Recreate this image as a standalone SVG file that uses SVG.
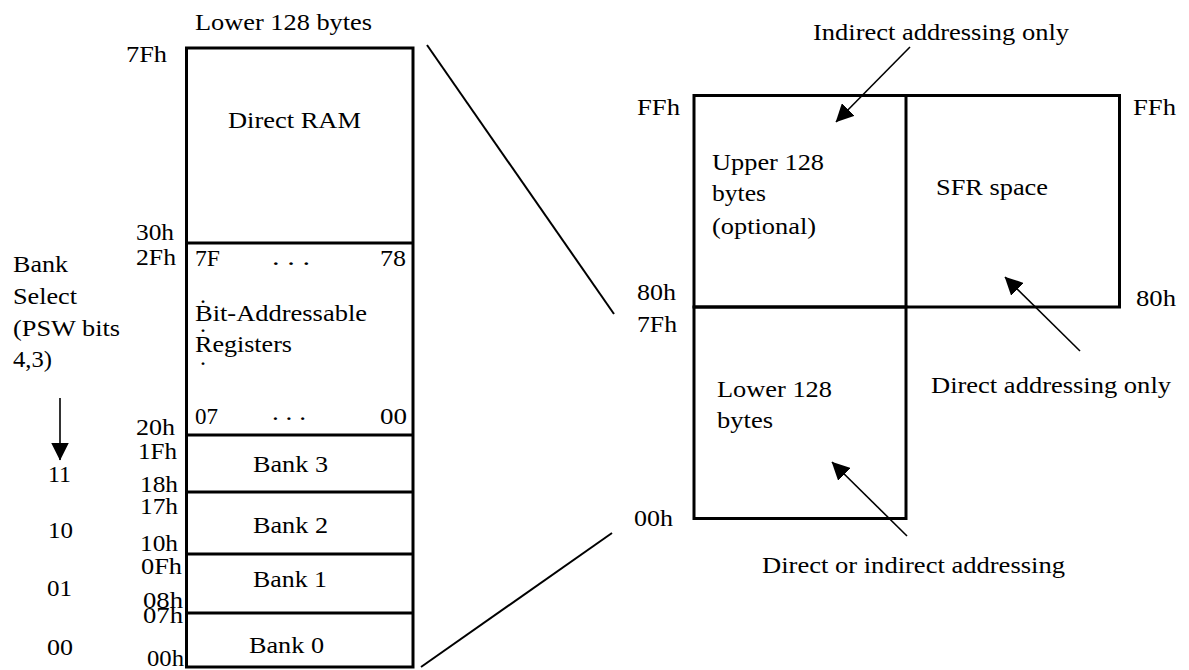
<svg xmlns="http://www.w3.org/2000/svg" width="1189" height="670" viewBox="0 0 1189 670">
<style>
text { font-family: "Liberation Serif", "Times New Roman", serif; font-size: 24px; fill: #000; }
.box { fill: none; stroke: #000; stroke-width: 3; }
.div { stroke: #000; stroke-width: 3; }
.conn { stroke: #000; stroke-width: 2; fill: none; }
.arr { stroke: #000; stroke-width: 1.6; fill: none; marker-end: url(#ah); }
</style>
<defs>
<marker id="ah" viewBox="0 0 18 18" refX="17.5" refY="9" markerWidth="18" markerHeight="18" markerUnits="userSpaceOnUse" orient="auto">
<path d="M0,0 L18,9 L0,18 z" fill="#000"/>
</marker>
</defs>
<rect width="1189" height="670" fill="#fff"/>

<g id="lower-ram">
<text x="195" y="30" textLength="177" lengthAdjust="spacingAndGlyphs">Lower 128 bytes</text>
<rect class="box" x="186.5" y="48" width="226.5" height="619"/>
<line class="div" x1="186.5" y1="243" x2="413" y2="243"/>
<line class="div" x1="186.5" y1="435" x2="413" y2="435"/>
<line class="div" x1="186.5" y1="492" x2="413" y2="492"/>
<line class="div" x1="186.5" y1="554" x2="413" y2="554"/>
<line class="div" x1="186.5" y1="613" x2="413" y2="613"/>
</g>

<g id="direct-ram">
<text x="228" y="128" textLength="133" lengthAdjust="spacingAndGlyphs">Direct RAM</text>
<text x="126" y="62" textLength="41" lengthAdjust="spacingAndGlyphs">7Fh</text>
<text x="136" y="240" textLength="38" lengthAdjust="spacingAndGlyphs">30h</text>
</g>

<g id="bit-addressable">
<text x="136" y="265" textLength="40" lengthAdjust="spacingAndGlyphs">2Fh</text>
<text x="195" y="266" textLength="25" lengthAdjust="spacingAndGlyphs">7F</text>
<text x="272" y="265" textLength="38" lengthAdjust="spacingAndGlyphs">. . .</text>
<text x="380" y="266" textLength="26" lengthAdjust="spacingAndGlyphs">78</text>
<text x="200" y="303">.</text>
<text x="195" y="321" textLength="172" lengthAdjust="spacingAndGlyphs">Bit-Addressable</text>
<text x="200" y="331.5">.</text>
<text x="195" y="352" textLength="97" lengthAdjust="spacingAndGlyphs">Registers</text>
<text x="200" y="365">.</text>
<text x="195" y="424" textLength="23" lengthAdjust="spacingAndGlyphs">07</text>
<text x="272" y="419.5" textLength="34" lengthAdjust="spacingAndGlyphs">. . .</text>
<text x="380" y="424" textLength="27" lengthAdjust="spacingAndGlyphs">00</text>
<text x="136" y="435" textLength="39" lengthAdjust="spacingAndGlyphs">20h</text>
</g>

<g id="bank3">
<text x="138" y="459" textLength="39" lengthAdjust="spacingAndGlyphs">1Fh</text>
<text x="253" y="472" textLength="75" lengthAdjust="spacingAndGlyphs">Bank 3</text>
<text x="140" y="492" textLength="38" lengthAdjust="spacingAndGlyphs">18h</text>
</g>
<g id="bank2">
<text x="140" y="514" textLength="38" lengthAdjust="spacingAndGlyphs">17h</text>
<text x="253" y="533" textLength="75" lengthAdjust="spacingAndGlyphs">Bank 2</text>
<text x="140" y="551" textLength="38" lengthAdjust="spacingAndGlyphs">10h</text>
</g>
<g id="bank1">
<text x="141" y="574" textLength="41" lengthAdjust="spacingAndGlyphs">0Fh</text>
<text x="253" y="587" textLength="74" lengthAdjust="spacingAndGlyphs">Bank 1</text>
<text x="143" y="608" textLength="40" lengthAdjust="spacingAndGlyphs">08h</text>
</g>
<g id="bank0">
<text x="143" y="623" textLength="40" lengthAdjust="spacingAndGlyphs">07h</text>
<text x="249" y="653" textLength="75" lengthAdjust="spacingAndGlyphs">Bank 0</text>
<text x="147" y="666" textLength="37" lengthAdjust="spacingAndGlyphs">00h</text>
</g>

<g id="bank-select">
<text x="13" y="272" textLength="55" lengthAdjust="spacingAndGlyphs">Bank</text>
<text x="13" y="304" textLength="64" lengthAdjust="spacingAndGlyphs">Select</text>
<text x="13" y="336" textLength="107" lengthAdjust="spacingAndGlyphs">(PSW bits</text>
<text x="13" y="367" textLength="39" lengthAdjust="spacingAndGlyphs">4,3)</text>
<text x="48" y="482" textLength="23" lengthAdjust="spacingAndGlyphs">11</text>
<text x="48" y="538" textLength="25" lengthAdjust="spacingAndGlyphs">10</text>
<text x="47" y="596" textLength="25" lengthAdjust="spacingAndGlyphs">01</text>
<text x="47" y="655" textLength="26" lengthAdjust="spacingAndGlyphs">00</text>
</g>

<g id="internal-ram">
<rect class="box" x="694" y="95.5" width="425.5" height="211.5"/>
<rect class="box" x="694" y="307" width="212" height="211.5"/>
<line class="div" x1="906" y1="95.5" x2="906" y2="307"/>
<text x="637" y="115" textLength="43" lengthAdjust="spacingAndGlyphs">FFh</text>
<text x="1133" y="115" textLength="43" lengthAdjust="spacingAndGlyphs">FFh</text>
<text x="637" y="300" textLength="39" lengthAdjust="spacingAndGlyphs">80h</text>
<text x="1136" y="306" textLength="40" lengthAdjust="spacingAndGlyphs">80h</text>
<text x="637" y="332" textLength="40" lengthAdjust="spacingAndGlyphs">7Fh</text>
<text x="634" y="526" textLength="39" lengthAdjust="spacingAndGlyphs">00h</text>
</g>
<g id="upper-128">
<text x="712" y="170" textLength="112" lengthAdjust="spacingAndGlyphs">Upper 128</text>
<text x="712" y="201" textLength="54" lengthAdjust="spacingAndGlyphs">bytes</text>
<text x="712" y="234" textLength="104" lengthAdjust="spacingAndGlyphs">(optional)</text>
</g>
<g id="sfr-space">
<text x="936" y="195" textLength="112" lengthAdjust="spacingAndGlyphs">SFR space</text>
</g>
<g id="lower-128">
<text x="717" y="397" textLength="115" lengthAdjust="spacingAndGlyphs">Lower 128</text>
<text x="717" y="428" textLength="56" lengthAdjust="spacingAndGlyphs">bytes</text>
</g>
<g id="labels">
<text x="813" y="40" textLength="256" lengthAdjust="spacingAndGlyphs">Indirect addressing only</text>
<text x="931" y="393" textLength="240" lengthAdjust="spacingAndGlyphs">Direct addressing only</text>
<text x="762" y="573" textLength="303" lengthAdjust="spacingAndGlyphs">Direct or indirect addressing</text>
</g>

<g id="connectors">
<line class="conn" x1="427" y1="45" x2="614" y2="314"/>
<line class="conn" x1="421" y1="667" x2="612" y2="533"/>
<line class="arr" x1="910" y1="47" x2="836" y2="122"/>
<line class="arr" x1="1080" y1="351" x2="1005" y2="277"/>
<line class="arr" x1="907" y1="536" x2="832" y2="462"/>
<line class="arr" x1="60" y1="398" x2="60" y2="460"/>
</g>
</svg>
